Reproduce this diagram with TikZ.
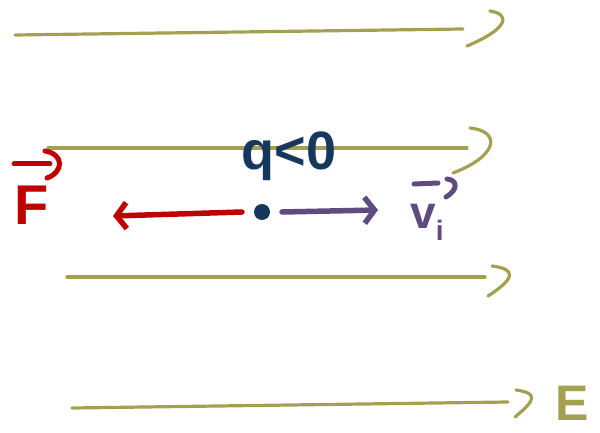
\documentclass[tikz,border=0pt]{standalone}
\usepackage{fontspec}
\setsansfont{Liberation Sans}
\usetikzlibrary{arrows.meta, positioning}
\definecolor{fieldolive}{HTML}{A3A052}
\definecolor{forcered}{HTML}{C00000}
\definecolor{chargeblue}{HTML}{17375E}
\definecolor{velpurple}{HTML}{5F4B7E}

\begin{document}
\begin{tikzpicture}[x=1pt, y=-1pt, font=\sffamily, every node/.style={inner sep=0pt},
    fieldline/.style={fieldolive, line width=3.2pt, line cap=round},
    forcearrow/.style={forcered, line width=5.5pt, line cap=round,
      -{Straight Barb[length=10pt, width=26pt, line width=5.5pt]}},
    velarrow/.style={velpurple, line width=5.5pt, line cap=round,
      -{Straight Barb[length=10pt, width=26pt, line width=5.5pt]}},
    vecbar/.style={line width=5pt, line cap=round},
    biglabel/.style={font=\fontsize{56}{56}\selectfont\sffamily\bfseries}]
  \useasboundingbox (0,0) rectangle (600,433);
  % field lines with their hand-drawn tips
  \foreach \i/\xa/\ya/\xb/\yb/\tx/\ty/\bx/\ux/\uy in {
      1/15/35/463/29/490/11/510/467/46,
      2/48/148/467/148/470/128/500/453/173,
      3/67/277/485/277/492/266/516/488/296,
      4/72/408/508/402/516/390/537/515/417}
  {
    \coordinate (fl\i s) at (\xa,\ya);
    \coordinate (fl\i e) at (\xb,\yb);
    \draw[fieldline] (fl\i s) -- (fl\i e);
    \draw[fieldline] (\tx,\ty) .. controls (\bx,\ty+3) and (\bx,\uy-18) .. (\ux,\uy);
  }
  \node[fieldolive, font=\fontsize{50}{50}\selectfont\sffamily\bfseries] (elbl) at (572,403) {E};
  % the charge and its arrows
  \fill[chargeblue] (262,212) circle (8pt);
  \coordinate (charge) at (262,212);
  \coordinate (fend) at (113,216);
  \coordinate (vend) at (378,210);
  \draw[forcearrow] ([xshift=-20pt]charge) -- (fend);
  \draw[velarrow] ([xshift=20pt]charge) -- (vend);
  \node[chargeblue, font=\fontsize{54}{54}\selectfont\sffamily\bfseries] (qlbl) at (289,156) {q<0};
  % labels with their vector bars
  \node[forcered, biglabel] (flbl) at (32,205) {F};
  \draw[forcered, vecbar] (14,164) -- (50,164);
  \draw[forcered, vecbar] (45,151) .. controls (64,154) and (64,172) .. (47,178);
  \node[velpurple, font=\fontsize{46}{46}\selectfont\sffamily\bfseries, anchor=base west]
       (vlbl) at (410,228) {v\raisebox{-0.28em}{\fontsize{28}{28}\selectfont i}};
  \draw[velpurple, vecbar] (414,184) -- (438,183);
  \draw[velpurple, vecbar] (447,179) .. controls (458,180) and (458,190) .. (446,197);
\end{tikzpicture}
\end{document}
